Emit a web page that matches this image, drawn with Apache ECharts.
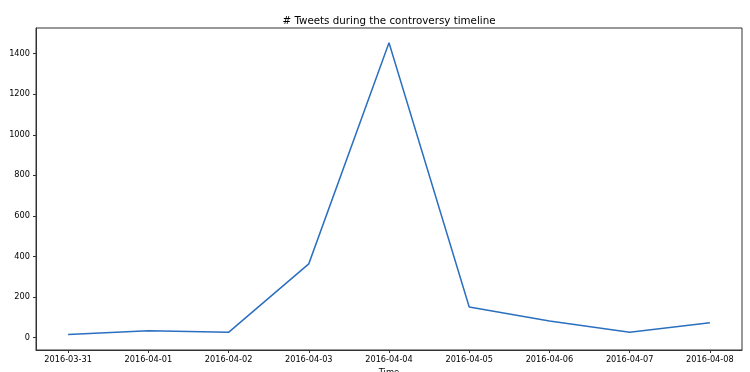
<!DOCTYPE html>
<html><head><meta charset="utf-8">
<script src="https://cdn.jsdelivr.net/npm/echarts@6/dist/echarts.min.js"></script>
<style>html,body{margin:0;padding:0;background:#fff}#c{width:750px;height:372px}</style>
</head><body><div id="c"></div>
<script>
const categories = ['2016-03-31','2016-04-01','2016-04-02','2016-04-03','2016-04-04','2016-04-05','2016-04-06','2016-04-07','2016-04-08'];
const tweets = [15, 33, 25, 363, 1454, 150, 81, 26, 72];
const yTicks = [0, 200, 400, 600, 800, 1000, 1200, 1400];
const xTicks = categories.map((c, i) => i);

const chart = echarts.init(document.getElementById('c'));
const font = 'DejaVu Sans';
chart.setOption({
  animation: false,
  title: {
    text: '# Tweets during the controversy timeline',
    left: 384, top: 11, textAlign: 'center',
    textStyle: {fontFamily: font, fontSize: 10.3, fontWeight: 'normal', color: '#000'}
  },
  grid: {left: 36, right: 8, top: 28, bottom: 22, show: true, borderColor: '#333', borderWidth: 1, containLabel: false, outerBoundsMode: 'none'},
  xAxis: {
    type: 'value', min: -0.4, max: 8.4,
    name: 'Time', nameLocation: 'middle', nameGap: 18,
    nameTextStyle: {fontFamily: font, fontSize: 8.4, color: '#000'},
    axisLine: {show: true, onZero: false, lineStyle: {color: '#333'}},
    axisTick: {show: true, customValues: xTicks, length: 3, lineStyle: {color: '#333'}},
    axisLabel: {customValues: xTicks, formatter: v => categories[Math.round(v)] || '', fontFamily: font, fontSize: 8.2, color: '#000', margin: 6},
    splitLine: {show: false}
  },
  yAxis: {
    type: 'value', min: -62, max: 1527,
    axisLine: {show: true, onZero: false, lineStyle: {color: '#333'}},
    axisTick: {show: true, customValues: yTicks, length: 3, lineStyle: {color: '#333'}},
    axisLabel: {customValues: yTicks, formatter: v => String(v), fontFamily: font, fontSize: 8.2, color: '#000', margin: 6},
    splitLine: {show: false}
  },
  series: [{
    type: 'line',
    data: tweets.map((v, i) => [i, v]),
    symbol: 'none',
    lineStyle: {color: '#2a6fc0', width: 1.5}
  }]
});
</script></body></html>
